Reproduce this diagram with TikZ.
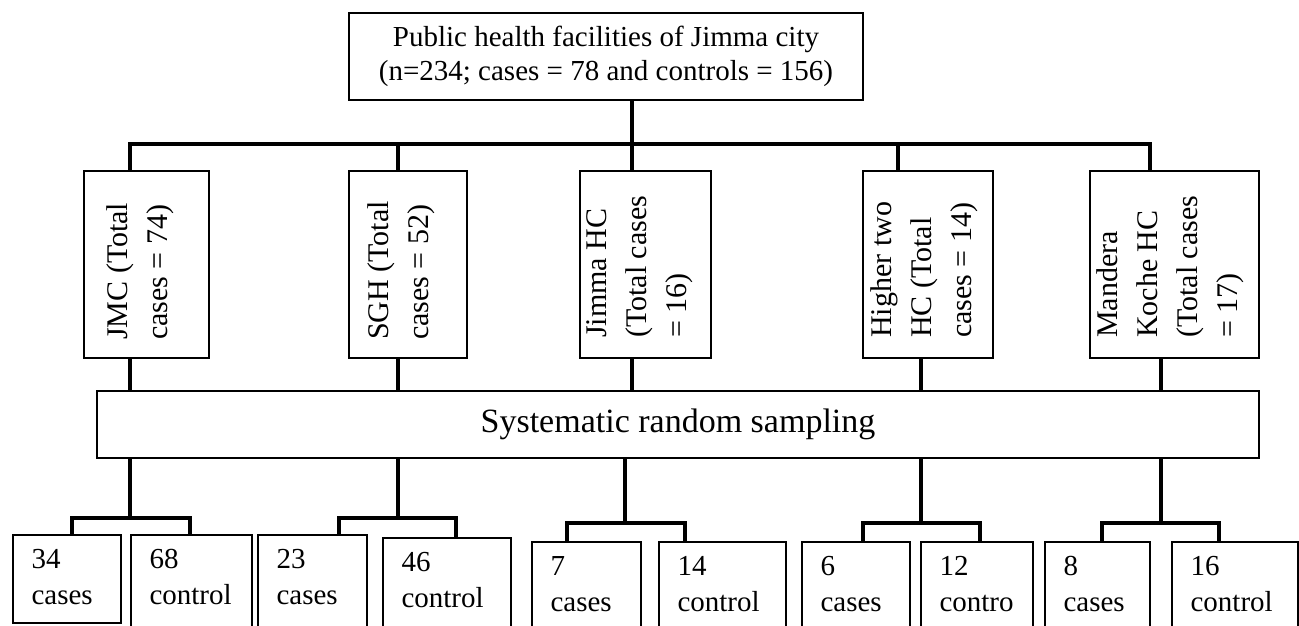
\documentclass[tikz,border=0pt]{standalone}
\usepackage{fontspec}
\setmainfont{Liberation Serif}
\usepackage{tikz}

\begin{document}
\begin{tikzpicture}[x=1pt, y=-1pt,
		box/.style={draw, line width=1.3pt, inner sep=0pt},
		link/.style={line width=4.3pt},
		sidetext/.style={rotate=90, anchor=north west, align=left, inner sep=0pt, font=\fontsize{30}{40}\selectfont},
		celltext/.style={anchor=north west, align=left, inner sep=0pt, font=\fontsize{29}{36}\selectfont}]
	\useasboundingbox (0,0) rectangle (1299,626);
	\clip (0,0) rectangle (1299,626);

	% study population
	\node[box, minimum width=514, minimum height=87, align=center, font=\fontsize{29}{34}\selectfont] (top) at (606,56.5)
		{Public health facilities of Jimma city\\(n=234; cases = 78 and controls = 156)};

	% facilities
	\node[box, minimum width=125, minimum height=187] (jmc) at (146.5,264.5) {};
	\node[box, minimum width=118, minimum height=187] (sgh) at (408,264.5) {};
	\node[box, minimum width=131, minimum height=187] (jhc) at (645.5,264.5) {};
	\node[box, minimum width=130, minimum height=187] (htwo) at (928,264.5) {};
	\node[box, minimum width=169, minimum height=187] (mkhc) at (1174.5,264.5) {};
	\node[sidetext] (jmctext) at (106,340) {JMC (Total\\cases = 74)};
	\node[sidetext] (sghtext) at (367,340) {SGH (Total\\cases = 52)};
	\node[sidetext] (jhctext) at (586,338) {Jimma HC\\(Total cases\\= 16)};
	\node[sidetext] (htwotext) at (870,338) {Higher two\\HC (Total\\cases = 14)};
	\node[sidetext] (mkhctext) at (1096,338) {Mandera\\Koche HC\\(Total cases\\= 17)};

	\node[box, minimum width=1162, minimum height=67, font=\fontsize{34}{40}\selectfont] (samp) at (678,424.5)
		{Systematic random sampling};

	% cases and controls
	\node[box, minimum width=108, minimum height=88] (ca1) at (67,579) {};
	\node[box, minimum width=121, minimum height=115] (co1) at (191.5,592.5) {};
	\node[box, minimum width=109, minimum height=115] (ca2) at (312.5,592.5) {};
	\node[box, minimum width=128, minimum height=112] (co2) at (447,594) {};
	\node[box, minimum width=109, minimum height=108] (ca3) at (586.5,596) {};
	\node[box, minimum width=127, minimum height=108] (co3) at (722.5,596) {};
	\node[box, minimum width=108, minimum height=108] (ca4) at (856,596) {};
	\node[box, minimum width=112, minimum height=108] (co4) at (977,596) {};
	\node[box, minimum width=105, minimum height=108] (ca5) at (1097.5,596) {};
	\node[box, minimum width=126, minimum height=108] (co5) at (1235,596) {};
	\foreach \c/\t in {ca1/34\\cases, co1/68\\control, ca2/23\\cases, co2/46\\control, ca3/7\\cases,
			co3/14\\control, ca4/6\\cases, co4/12\\contro, ca5/8\\cases, co5/16\\control}
		\node[celltext] (\c text) at ([xshift=19pt, yshift=-15pt]\c.north west) {\t};

	% connectors
	\coordinate (hub) at (632,144);
	\draw[link] (top.south -| hub) -- (hub);
	\draw[link] (130,0 |- jmc.north) |- (1150,144) -- (1150,0 |- mkhc.north);
	\draw[link] (398,0 |- sgh.north) -- (398,144);
	\draw[link] (632,0 |- jhc.north) -- (hub);
	\draw[link] (898,0 |- htwo.north) -- (898,144);
	\foreach \n/\s in {jmc/130, sgh/398, jhc/632, htwo/921, mkhc/1161}
		\draw[link] (\s,0 |- \n.south) -- (\s,0 |- samp.north);
	\foreach \s/\y/\l/\r/\a/\b in {130/518/72/190/ca1/co1, 398/518/339/456/ca2/co2, 625/523/567/685/ca3/co3,
			921/523/863/980/ca4/co4, 1161/523/1102/1219/ca5/co5} {
		\draw[link] (\s,0 |- samp.south) -- (\s,\y);
		\draw[link] (\l,0 |- \a.north) |- (\r,\y) -- (\r,0 |- \b.north);
	}
\end{tikzpicture}
\end{document}
